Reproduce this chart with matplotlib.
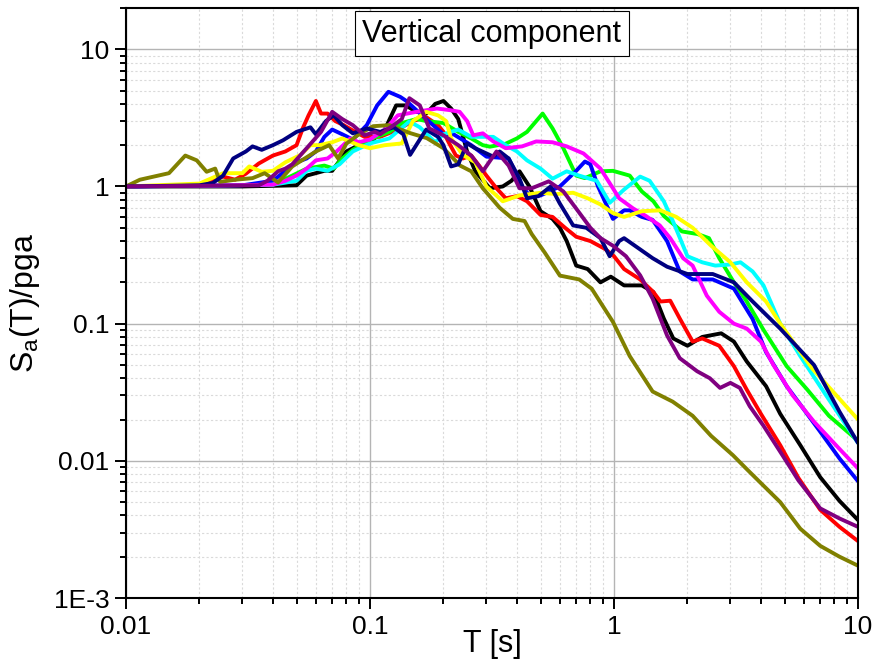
import matplotlib
matplotlib.use('Agg')
import matplotlib.pyplot as plt
from matplotlib.ticker import LogLocator, NullFormatter

# (period T [s], Sa/pga), one list per record
black = [(0.01, 1.0), (0.03, 1.0), (0.05, 1.02), (0.055, 1.2), (0.065, 1.3), (0.07, 1.3), (0.08, 1.8),
         (0.09, 2.0), (0.1, 2.1), (0.115, 2.6), (0.128, 3.9), (0.14, 3.9), (0.155, 3.5), (0.17, 3.4),
         (0.185, 4.0), (0.2, 4.2), (0.215, 3.7), (0.23, 3.1), (0.25, 1.8), (0.27, 1.29), (0.31, 0.97),
         (0.35, 1.0), (0.38, 1.1), (0.41, 1.29), (0.45, 1.0), (0.5, 0.66), (0.56, 0.58), (0.6, 0.5),
         (0.64, 0.4), (0.7, 0.265), (0.78, 0.25), (0.88, 0.2), (0.97, 0.22), (1.1, 0.19), (1.3, 0.19),
         (1.45, 0.17), (1.6, 0.109), (1.75, 0.078), (2.0, 0.069), (2.3, 0.08), (2.75, 0.085), (3.1, 0.074),
         (3.5, 0.053), (4.2, 0.035), (4.8, 0.022), (5.8, 0.013), (7.0, 0.0076), (8.4, 0.0051), (10, 0.0037)]
red = [(0.01, 1.0), (0.02, 1.02), (0.022, 1.1), (0.025, 1.18), (0.028, 1.12), (0.031, 1.24), (0.035, 1.47),
       (0.04, 1.68), (0.045, 1.8), (0.05, 2.0), (0.053, 2.65), (0.056, 3.3), (0.06, 4.2), (0.063, 3.4),
       (0.067, 3.4), (0.072, 3.0), (0.078, 2.8), (0.085, 2.56), (0.095, 2.3), (0.11, 2.3), (0.13, 2.6),
       (0.15, 3.0), (0.17, 3.2), (0.19, 2.8), (0.2, 2.5), (0.21, 2.1), (0.225, 1.68), (0.24, 1.6),
       (0.26, 1.68), (0.28, 1.42), (0.3, 1.2), (0.33, 0.97), (0.36, 0.82), (0.4, 0.85), (0.44, 0.78),
       (0.5, 0.62), (0.56, 0.6), (0.63, 0.5), (0.7, 0.43), (0.8, 0.4), (0.92, 0.35), (1.0, 0.31),
       (1.1, 0.25), (1.28, 0.21), (1.45, 0.17), (1.55, 0.145), (1.7, 0.147), (1.86, 0.109), (2.1, 0.074),
       (2.3, 0.078), (2.7, 0.069), (3.1, 0.049), (3.5, 0.033), (4.0, 0.022), (4.8, 0.013), (5.7, 0.0075),
       (7.0, 0.0044), (8.4, 0.0033), (10, 0.0026)]
green = [(0.01, 1.0), (0.04, 1.03), (0.048, 1.2), (0.055, 1.35), (0.065, 1.42), (0.071, 1.35), (0.077, 1.6),
         (0.085, 1.85), (0.1, 2.2), (0.12, 2.5), (0.135, 2.9), (0.155, 3.1), (0.17, 3.0), (0.2, 2.9),
         (0.23, 2.5), (0.26, 2.24), (0.29, 2.0), (0.31, 1.95), (0.36, 2.05), (0.4, 2.24), (0.44, 2.5),
         (0.51, 3.4), (0.56, 2.65), (0.62, 1.9), (0.7, 1.2), (0.76, 1.15), (0.88, 1.29), (0.99, 1.3),
         (1.16, 1.2), (1.3, 0.92), (1.45, 0.78), (1.6, 0.61), (1.9, 0.47), (2.2, 0.45), (2.45, 0.42),
         (2.7, 0.3), (3.1, 0.2), (3.5, 0.145), (4.1, 0.09), (5.1, 0.049), (6.2, 0.033), (7.6, 0.0213),
         (10, 0.014)]
blue = [(0.01, 1.0), (0.03, 1.02), (0.04, 1.1), (0.045, 1.3), (0.05, 1.5), (0.055, 1.6), (0.06, 1.8),
        (0.065, 2.3), (0.07, 2.6), (0.077, 2.4), (0.085, 2.2), (0.097, 2.8), (0.107, 3.9), (0.119, 4.9),
        (0.133, 4.5), (0.141, 4.2), (0.155, 3.6), (0.17, 3.1), (0.2, 2.4), (0.22, 2.4), (0.26, 2.0),
        (0.3, 1.65), (0.37, 1.6), (0.42, 1.0), (0.45, 0.86), (0.5, 0.86), (0.6, 1.0), (0.7, 1.3),
        (0.76, 1.52), (0.8, 1.45), (0.86, 1.0), (0.99, 0.58), (1.1, 0.67), (1.16, 0.67), (1.3, 0.6),
        (1.44, 0.57), (1.65, 0.4), (1.86, 0.24), (2.1, 0.21), (2.54, 0.21), (3.1, 0.18), (3.7, 0.108),
        (4.2, 0.062), (5.1, 0.035), (5.6, 0.028), (7.0, 0.0163), (8.4, 0.0104), (10, 0.0071)]
cyan = [(0.01, 1.0), (0.04, 1.03), (0.05, 1.1), (0.055, 1.3), (0.06, 1.35), (0.067, 1.3), (0.075, 1.45),
        (0.085, 1.8), (0.1, 2.06), (0.12, 2.24), (0.145, 2.98), (0.16, 2.7), (0.185, 2.1), (0.2, 2.4),
        (0.23, 2.6), (0.26, 2.3), (0.29, 2.3), (0.32, 2.3), (0.36, 2.0), (0.4, 1.8), (0.44, 1.55),
        (0.5, 1.35), (0.56, 1.14), (0.64, 1.29), (0.72, 1.2), (0.85, 1.1), (0.96, 0.76), (1.1, 0.95),
        (1.28, 1.18), (1.4, 1.1), (1.6, 0.78), (1.75, 0.55), (2.0, 0.31), (2.3, 0.28), (2.6, 0.265),
        (3.0, 0.27), (3.3, 0.28), (3.7, 0.24), (4.1, 0.19), (4.8, 0.1), (5.8, 0.058), (7.4, 0.03),
        (10, 0.0135)]
magenta = [(0.01, 1.0), (0.04, 1.03), (0.045, 1.1), (0.05, 1.2), (0.055, 1.35), (0.06, 1.55), (0.067, 1.6),
           (0.073, 1.8), (0.083, 2.24), (0.09, 2.1), (0.1, 2.2), (0.115, 2.6), (0.13, 3.3), (0.155, 3.5),
           (0.188, 3.7), (0.213, 3.6), (0.233, 3.5), (0.25, 3.0), (0.265, 2.36), (0.29, 2.44), (0.32, 2.13),
           (0.36, 1.9), (0.42, 1.96), (0.48, 2.13), (0.56, 2.1), (0.64, 1.96), (0.75, 1.74), (0.88, 1.35),
           (0.99, 0.97), (1.05, 0.82), (1.2, 0.69), (1.35, 0.61), (1.54, 0.52), (1.7, 0.42), (1.92, 0.3),
           (2.1, 0.265), (2.4, 0.16), (2.7, 0.122), (3.1, 0.1), (3.5, 0.092), (4.0, 0.074), (4.5, 0.05),
           (5.4, 0.03), (6.6, 0.0193), (8.4, 0.0122), (10, 0.0088)]
yellow = [(0.01, 1.0), (0.02, 1.05), (0.025, 1.25), (0.03, 1.25), (0.032, 1.4), (0.036, 1.28), (0.04, 1.3),
          (0.045, 1.5), (0.052, 1.7), (0.057, 2.0), (0.062, 2.0), (0.07, 2.1), (0.077, 2.24), (0.09, 2.0),
          (0.1, 1.9), (0.115, 2.0), (0.135, 2.06), (0.15, 3.0), (0.17, 3.5), (0.19, 3.3), (0.205, 3.0),
          (0.215, 2.24), (0.24, 1.7), (0.27, 1.5), (0.3, 1.0), (0.35, 0.78), (0.41, 0.86), (0.5, 0.9),
          (0.58, 0.88), (0.68, 0.9), (0.78, 0.82), (0.88, 0.74), (0.99, 0.64), (1.1, 0.6), (1.3, 0.66),
          (1.55, 0.67), (1.8, 0.6), (2.1, 0.5), (2.5, 0.37), (3.0, 0.28), (3.5, 0.2), (4.2, 0.145),
          (4.8, 0.1), (6.5, 0.047), (10, 0.02)]
olive = [(0.01, 1.0), (0.0114, 1.12), (0.015, 1.25), (0.0175, 1.68), (0.0195, 1.55), (0.0214, 1.28),
         (0.0232, 1.35), (0.0243, 1.08), (0.028, 1.12), (0.033, 1.15), (0.037, 1.25), (0.042, 1.07),
         (0.048, 1.4), (0.06, 1.8), (0.068, 2.0), (0.074, 1.6), (0.08, 2.05), (0.09, 2.4), (0.103, 2.75),
         (0.12, 2.8), (0.146, 2.45), (0.171, 2.25), (0.2, 1.9), (0.234, 1.42), (0.26, 1.29), (0.29, 0.97),
         (0.34, 0.7), (0.385, 0.58), (0.43, 0.56), (0.46, 0.45), (0.52, 0.33), (0.6, 0.224), (0.72, 0.21),
         (0.81, 0.18), (0.99, 0.103), (1.16, 0.058), (1.44, 0.032), (1.74, 0.027), (2.1, 0.0213),
         (2.5, 0.0152), (3.07, 0.011), (3.5, 0.0087), (3.96, 0.007), (4.8, 0.005), (5.8, 0.0032),
         (7.0, 0.0024), (8.4, 0.002), (10, 0.00172)]
navy = [(0.01, 1.0), (0.02, 1.02), (0.0227, 1.06), (0.025, 1.2), (0.0275, 1.6), (0.031, 1.8), (0.033, 1.96),
        (0.036, 1.85), (0.04, 2.0), (0.044, 2.17), (0.05, 2.5), (0.057, 2.7), (0.06, 2.4), (0.066, 3.0),
        (0.071, 3.3), (0.077, 2.8), (0.085, 2.44), (0.097, 2.65), (0.11, 2.5), (0.125, 2.7), (0.137, 2.4),
        (0.146, 1.7), (0.16, 2.2), (0.17, 2.6), (0.19, 2.3), (0.2, 2.0), (0.215, 1.4), (0.23, 1.45),
        (0.25, 2.06), (0.27, 1.9), (0.32, 1.65), (0.34, 1.8), (0.37, 1.6), (0.41, 1.14), (0.44, 0.82),
        (0.49, 0.85), (0.55, 1.0), (0.6, 0.75), (0.68, 0.52), (0.77, 0.5), (0.88, 0.42), (0.96, 0.31),
        (1.05, 0.4), (1.1, 0.42), (1.44, 0.3), (1.65, 0.26), (2.0, 0.23), (2.54, 0.23), (3.1, 0.2),
        (3.7, 0.145), (4.8, 0.092), (6.6, 0.05), (8.4, 0.0228), (10, 0.0135)]
purple = [(0.01, 1.0), (0.035, 1.02), (0.038, 1.1), (0.042, 1.29), (0.045, 1.35), (0.048, 1.45), (0.055, 1.9),
          (0.063, 2.5), (0.07, 3.5), (0.077, 3.1), (0.085, 2.8), (0.095, 2.36), (0.105, 2.5), (0.11, 2.4),
          (0.125, 2.8), (0.135, 3.1), (0.145, 4.4), (0.16, 3.9), (0.175, 2.65), (0.2, 2.36), (0.23, 2.0),
          (0.26, 1.68), (0.29, 1.29), (0.33, 1.8), (0.37, 1.42), (0.41, 0.97), (0.46, 0.97), (0.54, 1.09),
          (0.62, 0.92), (0.7, 0.69), (0.8, 0.5), (0.88, 0.42), (0.99, 0.37), (1.12, 0.31), (1.28, 0.225),
          (1.44, 0.152), (1.65, 0.082), (1.86, 0.056), (2.19, 0.045), (2.47, 0.04), (2.72, 0.034),
          (3.0, 0.037), (3.28, 0.034), (3.6, 0.025), (4.1, 0.018), (4.9, 0.011), (5.7, 0.0072),
          (7.0, 0.0045), (8.4, 0.0038), (10, 0.0033)]

records = [black, red, green, blue, cyan, magenta, yellow, olive, navy, purple]
colors = ['#000000', '#ff0000', '#00ff00', '#0000ff', '#00ffff',
          '#ff00ff', '#ffff00', '#808000', '#000080', '#800080']

x_ticks = [0.01, 0.1, 1, 10]
x_labels = ['0.01', '0.1', '1', '10']
y_ticks = [1e-3, 0.01, 0.1, 1, 10]
y_labels = ['1E-3', '0.01', '0.1', '1', '10']

plt.rcParams['font.family'] = ['Liberation Sans', 'DejaVu Sans']

fig = plt.figure(figsize=(8.83, 6.62), dpi=100)
ax = fig.add_axes([126 / 883, 1 - 598 / 662, 732 / 883, 590 / 662])

for rec, c in zip(records, colors):
    t, sa = zip(*rec)
    ax.plot(t, sa, color=c, lw=2.8, solid_joinstyle='round', solid_capstyle='round')

ax.set_xscale('log')
ax.set_yscale('log')
ax.set_xlim(0.01, 10)
ax.set_ylim(1e-3, 20)
ax.set_xticks(x_ticks, x_labels)
ax.set_yticks(y_ticks, y_labels)
ax.xaxis.set_minor_locator(LogLocator(base=10, subs=range(2, 10)))
ax.yaxis.set_minor_locator(LogLocator(base=10, subs=range(2, 10)))
ax.xaxis.set_minor_formatter(NullFormatter())
ax.yaxis.set_minor_formatter(NullFormatter())

ax.grid(which='major', color='#b4b4b4', lw=1.0)
ax.grid(which='minor', color='#dadada', lw=0.8, linestyle=(0, (2, 2)))
ax.set_axisbelow(True)

ax.tick_params(which='both', direction='out', width=1.4, top=False, right=False,
               labelsize=19, color='black')
ax.tick_params(which='major', length=8, pad=4)
ax.tick_params(which='minor', length=4)
for sp in ax.spines.values():
    sp.set_linewidth(1.5)

ax.set_xlabel('T [s]', fontsize=22)
ax.set_ylabel(r'S$_\mathregular{a}$(T)/pga', fontsize=23)
ax.xaxis.set_label_coords(0.5, -0.052)
ax.yaxis.set_label_coords(-0.115, 0.5)

ax.text(0.5, 0.982, 'Vertical component', transform=ax.transAxes, ha='center', va='top',
        fontsize=22, zorder=5,
        bbox=dict(boxstyle='square,pad=0.25', fc='white', ec='black', lw=0.8))

fig.savefig('out.png', dpi=100)
